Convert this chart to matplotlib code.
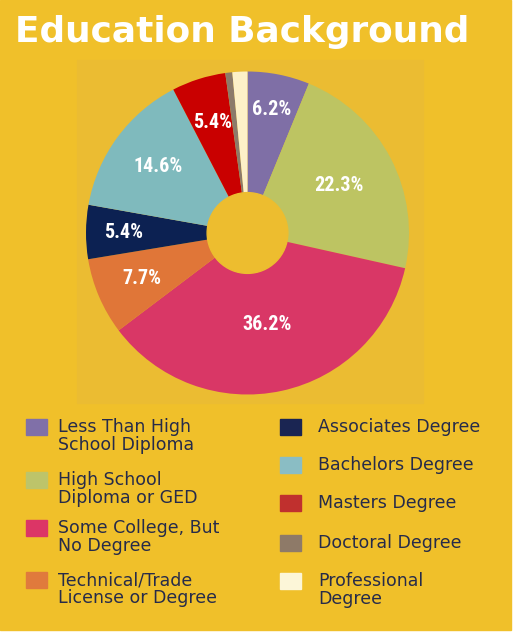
import numpy as np
import matplotlib.pyplot as plt
from matplotlib.patches import Rectangle, Circle

categories = ['Less Than High\nSchool Diploma', 'High School\nDiploma or GED',
              'Some College, But\nNo Degree', 'Technical/Trade\nLicense or Degree',
              'Associates Degree', 'Bachelors Degree', 'Masters Degree',
              'Doctoral Degree', 'Professional\nDegree']
shares = [6.2, 22.3, 36.2, 7.7, 5.4, 14.6, 5.4, 0.7, 1.5]
show_label = [True, True, True, True, True, True, True, False, False]

wedge_colors = ['#7f6fa6', '#bdc462', '#d93766', '#e07638', '#0c2152',
                '#7fbabd', '#c90000', '#8c7a6a', '#fdf0c8']
key_colors = ['#8070a8', '#bdc46a', '#dc3566', '#e07a3c', '#1a2552',
              '#8abdc4', '#c0302e', '#8e7a68', '#fcf6d8']
label_radius = [0.78, 0.64, 0.58, 0.71, 0.77, 0.69, 0.72, 0.7, 0.7]

W, H = 514, 635
bg = '#f0c02a'
panel = '#ebbc32'
ink = '#262b4a'

fig = plt.figure(figsize=(W / 100, H / 100), dpi=100, facecolor='white')

# yellow card and the darker square behind the pie
fig.patches.append(Rectangle((0, 1 - 630 / H), 511 / W, 630 / H,
                             transform=fig.transFigure, color=bg, zorder=-2))
fig.patches.append(Rectangle((77 / W, 1 - 403 / H), 346 / W, 343 / H,
                             transform=fig.transFigure, color=panel, zorder=-1))

fig.text(15 / W, 1 - 32 / H, 'Education Background', color='white',
         fontsize=25.8, fontweight='bold', family='DejaVu Sans',
         ha='left', va='center')

# pie: center (247.5, 233) px, radius 161.5 px
cx, cy, R = 247.5, 233, 161.5
ax = fig.add_axes([(cx - R) / W, 1 - (cy + R) / H, 2 * R / W, 2 * R / H])
ax.set_facecolor('none')
wedges, _ = ax.pie(shares, colors=wedge_colors, startangle=90,
                   counterclock=False, radius=1)
ax.add_patch(Circle((0, 0), 0.25, color='#edbd2f', zorder=3))
ax.set_xlim(-1, 1)
ax.set_ylim(-1, 1)
ax.set_aspect('equal')
ax.axis('off')

for w, v, r, show in zip(wedges, shares, label_radius, show_label):
    if not show:
        continue
    mid = np.deg2rad((w.theta1 + w.theta2) / 2)
    ax.text(r * np.cos(mid), r * np.sin(mid), f'{v:.1f}%', color='white',
            fontsize=14.5, fontweight='bold', fontstretch='condensed',
            family=['Roboto Condensed', 'DejaVu Sans'],
            ha='center', va='center', zorder=4)

# legend, two columns drawn by hand
left_rows = [427, 480, 528, 580]
right_rows = [427, 465, 503, 543, 581]
rows = [(26, 58, y) for y in left_rows] + [(280, 318, y) for y in right_rows]
for (px, tx, y), name, c in zip(rows, categories, key_colors):
    fig.patches.append(Rectangle((px / W, 1 - (y + 8) / H), 21 / W, 16 / H,
                                 transform=fig.transFigure, color=c, zorder=1))
    lines = name.count('\n') + 1
    ty = y + (9 if lines == 2 else 0)
    fig.text(tx / W, 1 - ty / H, name, color=ink, fontsize=12.5,
             family='DejaVu Sans', ha='left', va='center', linespacing=0.95)

fig.savefig('out.png', dpi=100, facecolor='white')
